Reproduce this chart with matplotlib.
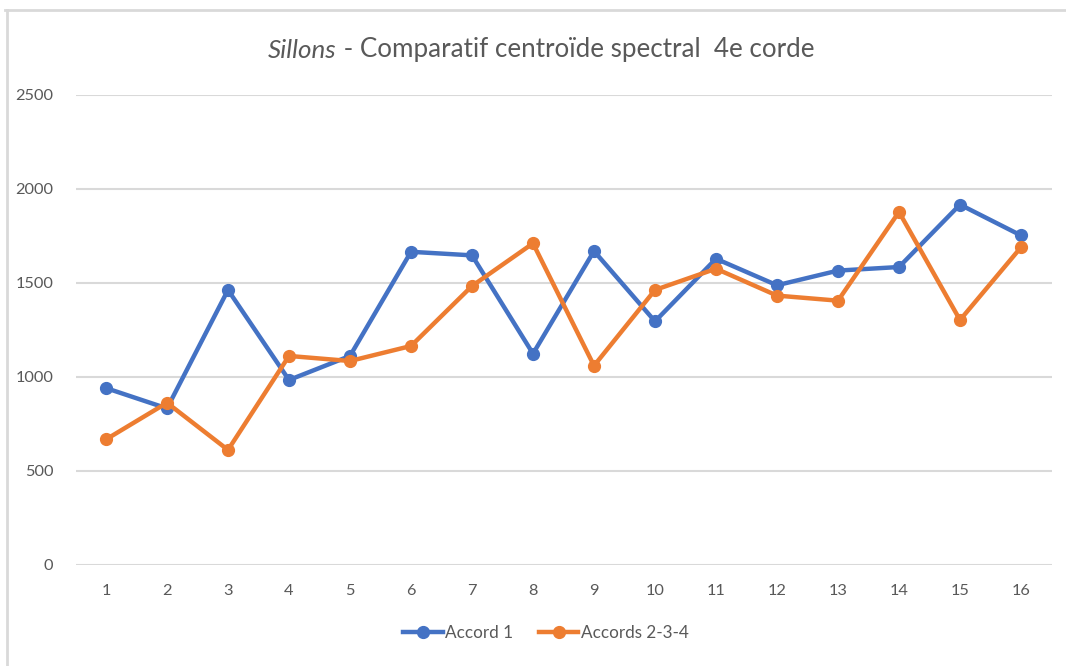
import matplotlib
matplotlib.use("Agg")
import matplotlib.pyplot as plt
from matplotlib.lines import Line2D

# Spectral centroid per groove, fourth string
grooves = [str(i) for i in range(1, 17)]
accord_1 = [941, 833, 1463, 984, 1112, 1666, 1647, 1124, 1670, 1296,
            1629, 1488, 1566, 1585, 1917, 1753]
accords_234 = [668, 863, 612, 1112, 1085, 1165, 1484, 1711, 1060, 1463,
               1576, 1433, 1406, 1878, 1303, 1690]
y_ticks = [0, 500, 1000, 1500, 2000, 2500]

BLUE = "#4472C4"
ORANGE = "#ED7D31"
TEXT = "#595959"
GRID = "#D9D9D9"

plt.rcParams["font.family"] = ["Lato", "DejaVu Sans"]

W, H = 1066, 666
fig = plt.figure(figsize=(W / 100, H / 100), dpi=100)
ax = fig.add_axes([75.5 / W, 1 - 565 / H, (1051.5 - 75.5) / W, (565 - 95) / H])

x = list(range(1, len(grooves) + 1))
ax.plot(x, accord_1, color=BLUE, lw=3.2, marker="o", ms=8.5,
        solid_joinstyle="round", label="Accord 1", zorder=3)
ax.plot(x, accords_234, color=ORANGE, lw=3.2, marker="o", ms=8.5,
        solid_joinstyle="round", label="Accords 2-3-4", zorder=3)

ax.set_xlim(0.5, len(grooves) + 0.5)
ax.set_ylim(0, 2500)
ax.set_xticks(x)
ax.set_xticklabels(grooves)
ax.set_yticks(y_ticks)
ax.set_yticklabels([str(v) for v in y_ticks])
ax.tick_params(axis="both", length=0, labelsize=11.8, labelcolor=TEXT)
ax.tick_params(axis="y", pad=16)
ax.tick_params(axis="x", pad=14)
ax.grid(axis="y", color=GRID, lw=1.5)
ax.set_axisbelow(True)
for s in ax.spines.values():
    s.set_visible(False)

# Title: italic word followed by the rest, centred as one line
title_y = 1 - 50 / H
title_size = 18.7
t1 = fig.text(0, title_y, "Sillons", style="italic", fontsize=title_size,
              color=TEXT, ha="left", va="center")
t2 = fig.text(0, title_y, " - Comparatif centroïde spectral  4e corde",
              fontsize=title_size, color=TEXT, ha="left", va="center")
renderer = fig.canvas.get_renderer()
w1 = t1.get_window_extent(renderer).width / W
w2 = t2.get_window_extent(renderer).width / W
x0 = 541 / W - (w1 + w2) / 2
t1.set_x(x0)
t2.set_x(x0 + w1)

handles = [
    Line2D([], [], color=BLUE, lw=3.2, marker="o", ms=8.5),
    Line2D([], [], color=ORANGE, lw=3.2, marker="o", ms=8.5),
]
fig.legend(handles, ["Accord 1", "Accords 2-3-4"], loc="center",
           bbox_to_anchor=(546 / W, 1 - 633 / H), ncol=2, frameon=False,
           fontsize=12.3, labelcolor=TEXT, handlelength=2.3,
           handletextpad=0.15, columnspacing=1.5)

# Chart frame edges
fig.add_artist(Line2D([5 / W, 1], [1 - 10 / H, 1 - 10 / H], color=GRID, lw=2))
fig.add_artist(Line2D([7 / W, 7 / W], [0, 1 - 10 / H], color=GRID, lw=2))

fig.savefig("out.png", dpi=100, facecolor="white")
